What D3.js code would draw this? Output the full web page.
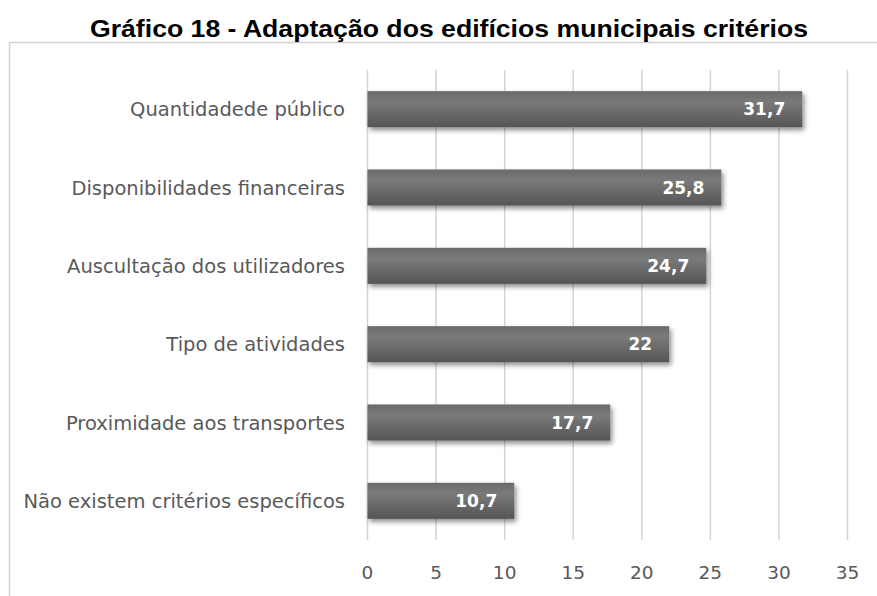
<!DOCTYPE html>
<html><head><meta charset="utf-8">
<script src="https://cdn.jsdelivr.net/npm/d3@7"></script>
<style>body{margin:0;background:#fff}svg{display:block}</style>
</head><body>
<script>
const title = "Gráfico 18 - Adaptação dos edifícios municipais critérios";
const categories = ["Quantidadede público","Disponibilidades financeiras","Auscultação dos utilizadores","Tipo de atividades","Proximidade aos transportes","Não existem critérios específicos"];
const values = [31.7, 25.8, 24.7, 22, 17.7, 10.7];
const valueLabels = ["31,7","25,8","24,7","22","17,7","10,7"];
const ticks = [0,5,10,15,20,25,30,35];

const W=877,H=596;
const svg=d3.select("body").append("svg").attr("width",W).attr("height",H);
const defs=svg.append("defs");
const g=defs.append("linearGradient").attr("id","bg").attr("x1",0).attr("y1",0).attr("x2",0).attr("y2",1);
g.append("stop").attr("offset","0%").attr("stop-color","#6a6a6a");
g.append("stop").attr("offset","30%").attr("stop-color","#7a7a7a");
g.append("stop").attr("offset","100%").attr("stop-color","#555555");
const f=defs.append("filter").attr("id","sh").attr("x","-10%").attr("y","-30%").attr("width","130%").attr("height","170%");
f.append("feDropShadow").attr("dx",2).attr("dy",3).attr("stdDeviation",2.5).attr("flood-color","#000").attr("flood-opacity",0.45);

svg.append("rect").attr("x",9.5).attr("y",42.5).attr("width",900).attr("height",600).attr("fill","none").attr("stroke","#d0d0d0").attr("stroke-width",1.5);

svg.append("text").attr("x",449).attr("y",37).attr("text-anchor","middle")
  .attr("font-family","Liberation Sans, Arial, sans-serif").attr("font-weight","bold").attr("font-size",24.5)
  .attr("textLength",718).attr("lengthAdjust","spacingAndGlyphs").attr("fill","#000").text(title);

const x=d3.scaleLinear().domain([0,35]).range([367.5,847.5]);
const y=d3.scaleBand().domain(categories).range([70,540]).paddingInner(0.54).paddingOuter(0.27);

svg.append("g").selectAll("line").data(ticks).join("line")
  .attr("x1",d=>x(d)).attr("x2",d=>x(d)).attr("y1",70).attr("y2",540)
  .attr("stroke","#d4d4d4").attr("stroke-width",1.5);

const font="DejaVu Sans, sans-serif";
svg.append("g").selectAll("text").data(ticks).join("text")
  .attr("x",d=>x(d)).attr("y",579).attr("text-anchor","middle")
  .attr("font-family",font).attr("font-size",18.5).attr("fill","#595959").text(d=>d);

svg.append("g").selectAll("text").data(categories).join("text")
  .attr("x",345).attr("y",d=>y(d)+y.bandwidth()/2).attr("dy","0.36em").attr("text-anchor","end")
  .attr("font-family",font).attr("font-size",19.5).attr("fill","#595959").text(d=>d);

svg.append("g").selectAll("rect").data(values).join("rect")
  .attr("x",x(0)).attr("y",(d,i)=>y(categories[i])).attr("width",d=>x(d)-x(0)).attr("height",y.bandwidth())
  .attr("fill","url(#bg)").attr("filter","url(#sh)");

svg.append("g").selectAll("text").data(values).join("text")
  .attr("x",d=>x(d)-17).attr("y",(d,i)=>y(categories[i])+y.bandwidth()/2).attr("dy","0.36em").attr("text-anchor","end")
  .attr("font-family",font).attr("font-weight","bold").attr("font-size",17).attr("fill","#fff").text((d,i)=>valueLabels[i]);
</script>
</body></html>
